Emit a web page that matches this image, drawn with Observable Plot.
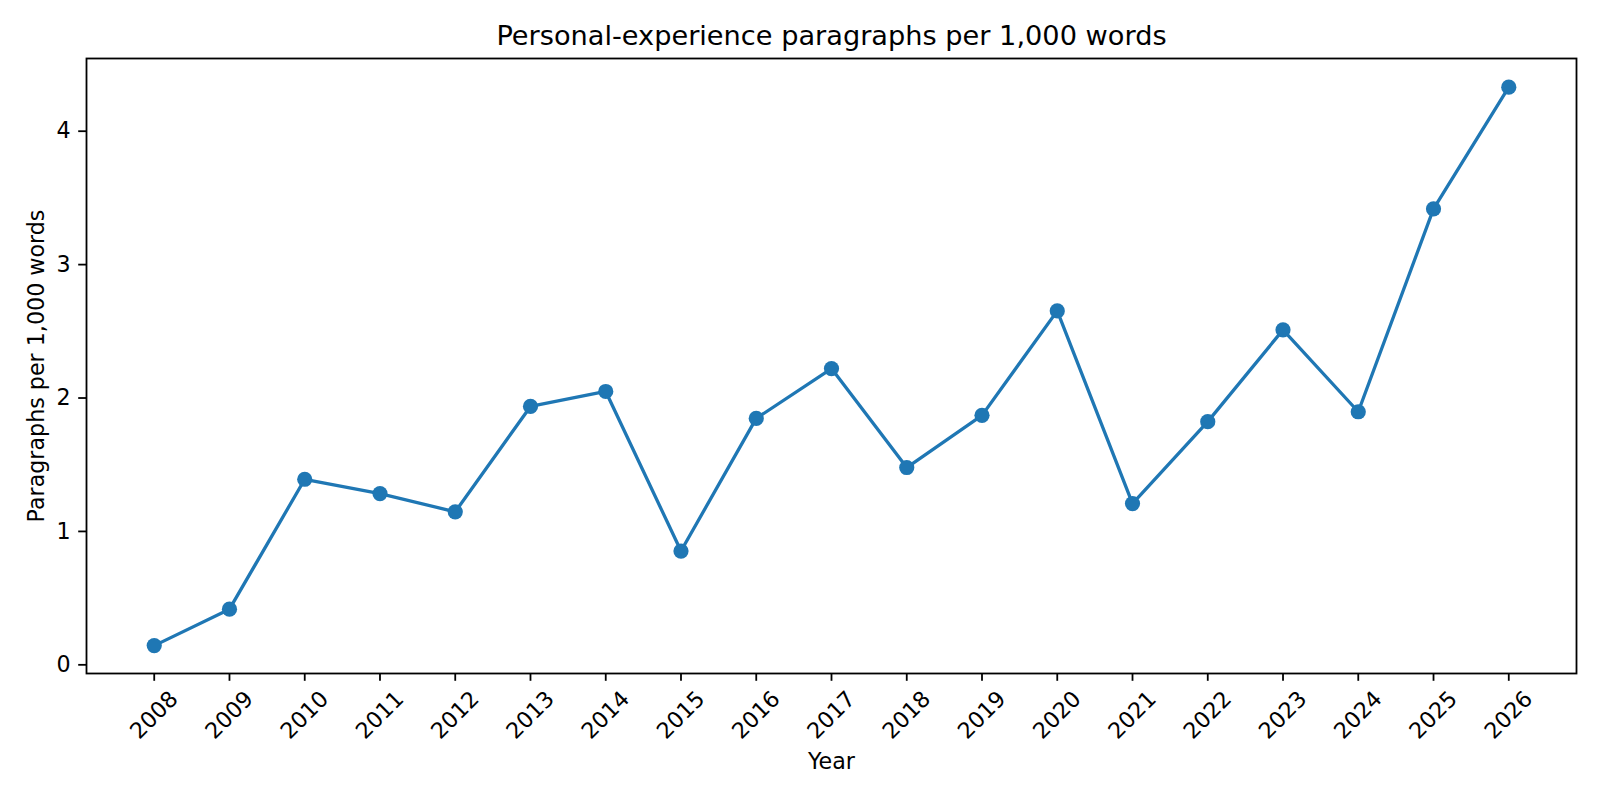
<!DOCTYPE html>
<html>
<head>
<meta charset="utf-8">
<script src="https://cdn.jsdelivr.net/npm/d3@7"></script>
<script src="https://cdn.jsdelivr.net/npm/@observablehq/plot@0.6"></script>
<style>
  html, body { margin: 0; padding: 0; background: #fff; }
  #chart svg { display: block; }
</style>
</head>
<body>
<div id="chart"></div>
<script>
const years = [2008, 2009, 2010, 2011, 2012, 2013, 2014, 2015, 2016, 2017, 2018, 2019, 2020, 2021, 2022, 2023, 2024, 2025, 2026];
const values = [0.144, 0.417, 1.391, 1.284, 1.147, 1.937, 2.049, 0.853, 1.847, 2.221, 1.479, 1.870, 2.653, 1.209, 1.823, 2.511, 1.897, 3.418, 4.330];
const yTicks = [0, 1, 2, 3, 4];
const title = "Personal-experience paragraphs per 1,000 words";
const xLabel = "Year";
const yLabel = "Paragraphs per 1,000 words";

const data = years.map((year, i) => ({year, value: values[i]}));
const color = "#1f77b4";
const font = "DejaVu Sans, sans-serif";

const chart = Plot.plot({
  width: 1600,
  height: 800,
  marginLeft: 86,
  marginRight: 24,
  marginTop: 58,
  marginBottom: 127,
  style: {fontFamily: font, fontSize: "22px", color: "#000", background: "#fff"},
  x: {domain: [2007.1, 2026.9]},
  y: {domain: [-0.065, 4.545]},
  marks: [
    Plot.axisX({ticks: years, tickFormat: "d", tickSize: 7.8, tickPadding: 34, tickRotate: -45,
      textAnchor: "middle", lineAnchor: "middle", strokeWidth: 1.8, stroke: "#000", fill: "#000",
      fontSize: 22.2, label: null}),
    Plot.axisY({ticks: yTicks, tickFormat: "d", tickSize: 7.8, tickPadding: 8, strokeWidth: 1.8,
      stroke: "#000", fill: "#000", fontSize: 22.2, label: null}),
    Plot.frame({stroke: "#000", strokeWidth: 1.8}),
    Plot.line(data, {x: "year", y: "value", stroke: color, strokeWidth: 3.3}),
    Plot.dot(data, {x: "year", y: "value", fill: color, r: 7.6, stroke: null}),
    Plot.text([title], {frameAnchor: "top", dy: -22, fontSize: 27.2, fill: "#000", lineAnchor: "middle", textAnchor: "middle"}),
    Plot.text([xLabel], {frameAnchor: "bottom", dy: 88, fontSize: 22.2, fill: "#000", lineAnchor: "middle", textAnchor: "middle"}),
    Plot.text([yLabel], {frameAnchor: "left", dx: -50, rotate: -90, fontSize: 22.2, fill: "#000", lineAnchor: "middle", textAnchor: "middle"})
  ]
});
document.getElementById("chart").appendChild(chart);
</script>
</body>
</html>
